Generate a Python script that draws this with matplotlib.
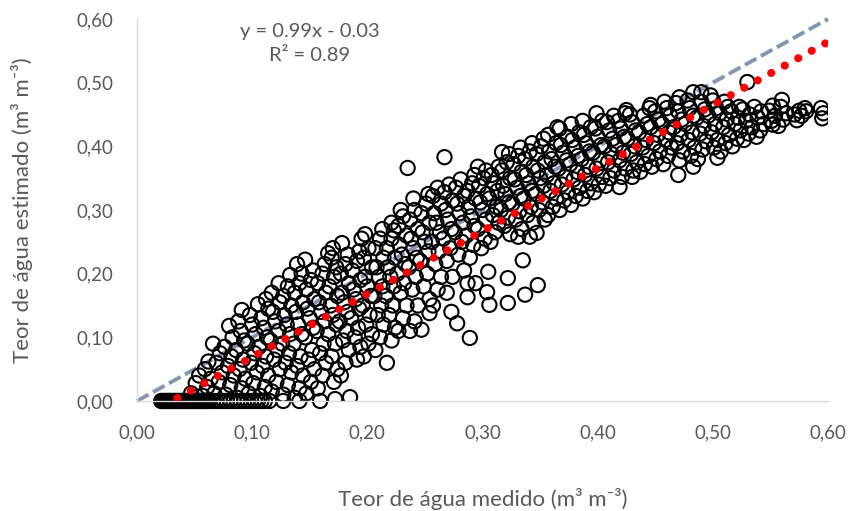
import matplotlib
matplotlib.use("Agg")
import matplotlib.pyplot as plt
import numpy as np

# pontos com estimado = 0 (valores medidos)
medido_zero = [0.021, 0.0225, 0.024, 0.0255, 0.027, 0.0285, 0.030, 0.0315, 0.033, 0.0345,
               0.036, 0.0375, 0.039, 0.0405, 0.042, 0.0435, 0.045, 0.0465, 0.048, 0.0495,
               0.051, 0.0525, 0.054, 0.0555, 0.057, 0.0585, 0.060, 0.0615, 0.063, 0.066,
               0.069, 0.072, 0.075, 0.078, 0.081, 0.084, 0.087, 0.090, 0.093, 0.096,
               0.099, 0.102, 0.105, 0.108, 0.111, 0.115, 0.127, 0.141, 0.159]

medido = [
    0.047, 0.051, 0.054,
    0.057, 0.061, 0.064, 0.059, 0.062,
    0.067, 0.071, 0.074, 0.069, 0.072, 0.066,
    0.077, 0.081, 0.084, 0.079, 0.082, 0.076, 0.083, 0.080,
    0.087, 0.091, 0.094, 0.089, 0.092, 0.086, 0.093, 0.090, 0.088, 0.091,
    0.097, 0.101, 0.104, 0.099, 0.102, 0.096, 0.103, 0.100, 0.098, 0.105,
    0.107, 0.111, 0.114, 0.109, 0.112, 0.106, 0.113, 0.110, 0.108, 0.114, 0.112,
    0.117, 0.121, 0.124, 0.119, 0.122, 0.116, 0.123, 0.120, 0.118, 0.124, 0.117, 0.123,
    0.127, 0.131, 0.134, 0.129, 0.132, 0.126, 0.133, 0.130, 0.128, 0.134, 0.127, 0.131, 0.133,
    0.137, 0.141, 0.144, 0.139, 0.142, 0.136, 0.143, 0.140, 0.138, 0.144, 0.137, 0.141, 0.143, 0.139,
    0.147, 0.151, 0.154, 0.149, 0.152, 0.146, 0.153, 0.150, 0.148, 0.154, 0.147, 0.151, 0.153, 0.146,
    0.157, 0.161, 0.164, 0.159, 0.162, 0.156, 0.163, 0.160, 0.158, 0.164, 0.157, 0.161, 0.163, 0.166,
    0.172, 0.171, 0.174, 0.169, 0.172, 0.166, 0.173, 0.170, 0.168, 0.174, 0.167, 0.171, 0.173, 0.169, 0.170,
    0.177, 0.181, 0.184, 0.179, 0.182, 0.176, 0.183, 0.180, 0.178, 0.184, 0.177, 0.181, 0.183, 0.178,
    0.185, 0.191, 0.194, 0.189, 0.192, 0.186, 0.193, 0.190, 0.188, 0.194, 0.187, 0.191, 0.193, 0.195,
    0.197, 0.201, 0.204, 0.199, 0.202, 0.196, 0.203, 0.200, 0.198, 0.204, 0.197, 0.201, 0.198,
    0.207, 0.211, 0.214, 0.209, 0.212, 0.206, 0.213, 0.210, 0.208, 0.214, 0.207, 0.211, 0.213,
    0.217, 0.221, 0.224, 0.219, 0.222, 0.216, 0.223, 0.220, 0.218, 0.224, 0.217, 0.221, 0.223, 0.221,
    0.227, 0.231, 0.234, 0.229, 0.232, 0.226, 0.233, 0.230, 0.228, 0.234, 0.227, 0.231, 0.229,
    0.237, 0.241, 0.244, 0.239, 0.242, 0.236, 0.243, 0.240, 0.238, 0.244, 0.237, 0.241, 0.240, 0.235,
    0.247, 0.254, 0.254, 0.249, 0.252, 0.246, 0.253, 0.250, 0.248, 0.254, 0.247, 0.251, 0.253,
    0.257, 0.261, 0.264, 0.259, 0.262, 0.256, 0.263, 0.260, 0.258, 0.264, 0.257, 0.261, 0.267,
    0.273, 0.269, 0.274, 0.269, 0.272, 0.266, 0.273, 0.270, 0.268, 0.274, 0.267, 0.271,
    0.278, 0.287, 0.284, 0.279, 0.282, 0.276, 0.283, 0.280, 0.278, 0.284, 0.277, 0.281,
    0.289, 0.287, 0.294, 0.289, 0.292, 0.286, 0.293, 0.290, 0.288, 0.294, 0.287, 0.291, 0.293, 0.296,
    0.306, 0.304, 0.305, 0.299, 0.302, 0.296, 0.303, 0.300, 0.298, 0.304, 0.297, 0.301, 0.303,
    0.307, 0.311, 0.314, 0.309, 0.312, 0.306, 0.313, 0.310, 0.308, 0.314, 0.317,
    0.322, 0.322, 0.324, 0.319, 0.322, 0.316, 0.323, 0.320, 0.318, 0.324, 0.317, 0.321, 0.323,
    0.335, 0.331, 0.334, 0.329, 0.332, 0.326, 0.333, 0.330, 0.328, 0.334, 0.327, 0.331, 0.333,
    0.337, 0.341, 0.344, 0.339, 0.342, 0.336, 0.343, 0.340, 0.338, 0.344, 0.337, 0.341, 0.343,
    0.348, 0.347, 0.354, 0.349, 0.352, 0.346, 0.353, 0.350, 0.348, 0.354, 0.347, 0.351, 0.353,
    0.357, 0.361, 0.364, 0.359, 0.362, 0.356, 0.363, 0.360, 0.358, 0.364, 0.357, 0.365,
    0.367, 0.371, 0.374, 0.369, 0.372, 0.366, 0.373, 0.370, 0.368, 0.374, 0.367,
    0.377, 0.381, 0.384, 0.379, 0.382, 0.376, 0.383, 0.380, 0.378, 0.384, 0.377,
    0.387, 0.391, 0.394, 0.389, 0.392, 0.386, 0.393, 0.390, 0.388, 0.394, 0.387,
    0.397, 0.401, 0.404, 0.399, 0.402, 0.396, 0.403, 0.400, 0.398, 0.404, 0.399,
    0.407, 0.411, 0.414, 0.409, 0.412, 0.406, 0.413, 0.410, 0.408, 0.414,
    0.419, 0.421, 0.424, 0.419, 0.422, 0.416, 0.423, 0.420, 0.418, 0.424,
    0.430, 0.431, 0.434, 0.429, 0.432, 0.426, 0.433, 0.430, 0.428, 0.425,
    0.437, 0.441, 0.444, 0.439, 0.442, 0.436, 0.443, 0.440, 0.445,
    0.447, 0.451, 0.454, 0.449, 0.452, 0.446, 0.453, 0.450, 0.446,
    0.457, 0.461, 0.464, 0.459, 0.462, 0.456, 0.463, 0.460, 0.458,
    0.470, 0.471, 0.474, 0.469, 0.472, 0.466, 0.473, 0.470, 0.468, 0.471,
    0.483, 0.481, 0.484, 0.479, 0.482, 0.476, 0.483, 0.480, 0.478, 0.483,
    0.487, 0.491, 0.494, 0.489, 0.492, 0.486, 0.493, 0.490, 0.490,
    0.504, 0.501, 0.504, 0.499, 0.502, 0.496, 0.503, 0.500, 0.498,
    0.507, 0.511, 0.514, 0.509, 0.512, 0.506, 0.513, 0.510,
    0.517, 0.521, 0.524, 0.519, 0.522, 0.516, 0.523,
    0.527, 0.531, 0.534, 0.529, 0.532, 0.526, 0.530,
    0.538, 0.541, 0.544, 0.539, 0.542, 0.536,
    0.552, 0.551, 0.554, 0.549, 0.552,
    0.557, 0.561, 0.564, 0.559, 0.560,
    0.573, 0.571, 0.575,
    0.577, 0.581, 0.580,
    0.595, 0.596, 0.594,
]

estimado = [
    0.012, 0.028, 0.040,
    0.008, 0.022, 0.035, 0.050, 0.062,
    0.012, 0.030, 0.045, 0.060, 0.075, 0.090,
    0.010, 0.025, 0.040, 0.055, 0.070, 0.085, 0.100, 0.118,
    0.005, 0.020, 0.035, 0.050, 0.065, 0.080, 0.095, 0.110, 0.125, 0.143,
    0.012, 0.028, 0.045, 0.060, 0.075, 0.090, 0.105, 0.120, 0.135, 0.152,
    0.008, 0.022, 0.040, 0.055, 0.070, 0.085, 0.100, 0.115, 0.130, 0.145, 0.160,
    0.015, 0.030, 0.050, 0.065, 0.080, 0.095, 0.110, 0.125, 0.140, 0.155, 0.170, 0.185,
    0.010, 0.025, 0.045, 0.060, 0.075, 0.090, 0.105, 0.120, 0.135, 0.150, 0.165, 0.180, 0.198,
    0.005, 0.020, 0.040, 0.055, 0.070, 0.090, 0.105, 0.120, 0.140, 0.155, 0.170, 0.185, 0.200, 0.215,
    0.012, 0.030, 0.050, 0.065, 0.080, 0.100, 0.115, 0.130, 0.145, 0.160, 0.175, 0.190, 0.205, 0.222,
    0.020, 0.040, 0.060, 0.075, 0.090, 0.110, 0.125, 0.140, 0.155, 0.170, 0.185, 0.200, 0.215, 0.232,
    0.003, 0.030, 0.050, 0.070, 0.090, 0.105, 0.120, 0.135, 0.150, 0.165, 0.180, 0.195, 0.210, 0.225, 0.240,
    0.040, 0.060, 0.080, 0.095, 0.110, 0.125, 0.140, 0.155, 0.170, 0.185, 0.200, 0.215, 0.230, 0.248,
    0.006, 0.065, 0.085, 0.100, 0.115, 0.130, 0.145, 0.160, 0.175, 0.190, 0.205, 0.220, 0.235, 0.255,
    0.070, 0.090, 0.105, 0.120, 0.135, 0.150, 0.165, 0.180, 0.195, 0.210, 0.225, 0.240, 0.262,
    0.080, 0.100, 0.120, 0.135, 0.150, 0.165, 0.180, 0.195, 0.210, 0.225, 0.240, 0.255, 0.270,
    0.060, 0.095, 0.115, 0.135, 0.150, 0.165, 0.180, 0.195, 0.210, 0.225, 0.240, 0.255, 0.268, 0.280,
    0.110, 0.130, 0.150, 0.170, 0.185, 0.200, 0.215, 0.230, 0.245, 0.260, 0.275, 0.290, 0.300,
    0.110, 0.125, 0.150, 0.175, 0.195, 0.210, 0.225, 0.240, 0.255, 0.270, 0.285, 0.300, 0.318, 0.366,
    0.112, 0.138, 0.160, 0.180, 0.200, 0.220, 0.235, 0.250, 0.265, 0.280, 0.295, 0.310, 0.325,
    0.150, 0.175, 0.195, 0.215, 0.235, 0.250, 0.265, 0.280, 0.295, 0.310, 0.322, 0.335, 0.383,
    0.140, 0.170, 0.195, 0.220, 0.240, 0.255, 0.270, 0.285, 0.300, 0.315, 0.328, 0.340,
    0.122, 0.185, 0.205, 0.230, 0.250, 0.265, 0.280, 0.295, 0.310, 0.322, 0.335, 0.348,
    0.099, 0.163, 0.185, 0.225, 0.245, 0.260, 0.275, 0.290, 0.305, 0.318, 0.330, 0.342, 0.355, 0.368,
    0.151, 0.171, 0.203, 0.240, 0.255, 0.270, 0.285, 0.300, 0.312, 0.325, 0.338, 0.350, 0.362,
    0.250, 0.265, 0.280, 0.292, 0.305, 0.318, 0.330, 0.342, 0.355, 0.368, 0.391,
    0.154, 0.193, 0.262, 0.275, 0.288, 0.300, 0.312, 0.325, 0.338, 0.350, 0.362, 0.375, 0.388,
    0.221, 0.258, 0.270, 0.285, 0.298, 0.310, 0.322, 0.335, 0.348, 0.360, 0.372, 0.385, 0.398,
    0.167, 0.258, 0.280, 0.292, 0.305, 0.318, 0.330, 0.342, 0.355, 0.368, 0.380, 0.392, 0.405,
    0.182, 0.264, 0.285, 0.300, 0.312, 0.325, 0.338, 0.350, 0.362, 0.375, 0.388, 0.400, 0.412,
    0.292, 0.305, 0.318, 0.330, 0.342, 0.355, 0.368, 0.380, 0.392, 0.405, 0.418, 0.430,
    0.300, 0.315, 0.328, 0.340, 0.352, 0.365, 0.378, 0.390, 0.402, 0.415, 0.428,
    0.308, 0.322, 0.335, 0.348, 0.360, 0.372, 0.385, 0.398, 0.410, 0.422, 0.435,
    0.318, 0.330, 0.342, 0.355, 0.368, 0.380, 0.392, 0.405, 0.418, 0.430, 0.440,
    0.328, 0.340, 0.352, 0.365, 0.378, 0.390, 0.402, 0.415, 0.428, 0.440, 0.452,
    0.338, 0.350, 0.362, 0.375, 0.388, 0.400, 0.412, 0.425, 0.438, 0.448,
    0.336, 0.352, 0.365, 0.378, 0.390, 0.402, 0.415, 0.428, 0.440, 0.452,
    0.352, 0.362, 0.375, 0.388, 0.400, 0.412, 0.425, 0.438, 0.450, 0.457,
    0.360, 0.372, 0.385, 0.398, 0.410, 0.422, 0.435, 0.448, 0.460,
    0.368, 0.380, 0.392, 0.405, 0.418, 0.430, 0.442, 0.455, 0.465,
    0.372, 0.385, 0.398, 0.410, 0.422, 0.435, 0.448, 0.460, 0.470,
    0.355, 0.378, 0.392, 0.405, 0.418, 0.430, 0.442, 0.455, 0.468, 0.477,
    0.368, 0.385, 0.398, 0.410, 0.422, 0.435, 0.448, 0.460, 0.472, 0.485,
    0.380, 0.395, 0.408, 0.420, 0.432, 0.445, 0.458, 0.470, 0.485,
    0.382, 0.398, 0.410, 0.422, 0.435, 0.448, 0.460, 0.472, 0.480,
    0.392, 0.405, 0.418, 0.430, 0.442, 0.452, 0.462, 0.470,
    0.400, 0.412, 0.425, 0.435, 0.445, 0.455, 0.462,
    0.410, 0.420, 0.430, 0.440, 0.450, 0.458, 0.501,
    0.415, 0.425, 0.435, 0.445, 0.455, 0.462,
    0.434, 0.440, 0.448, 0.456, 0.464,
    0.432, 0.442, 0.452, 0.462, 0.473,
    0.441, 0.450, 0.456,
    0.448, 0.455, 0.460,
    0.444, 0.452, 0.460,
]

# linha de tendencia (equacao do grafico) e linha 1:1
inclinacao = 0.99
intercepto = -0.03
r2 = 0.89
tendencia_x = [0.035, 0.600]
linha_11 = [0.0, 0.60]

ticks = [0.0, 0.1, 0.2, 0.3, 0.4, 0.5, 0.6]
tick_labels = ["0,00", "0,10", "0,20", "0,30", "0,40", "0,50", "0,60"]

assert len(medido) == len(estimado)

plt.rcParams['font.family'] = ['Lato', 'DejaVu Sans']
cinza = '#595959'

fig = plt.figure(figsize=(8.52, 5.11), dpi=100)
ax = fig.add_axes([0.1608, 0.2153, 0.8110, 0.7475])

# linha 1:1
ax.plot(linha_11, linha_11, color='#8497B0', linewidth=2.8,
        linestyle=(0, (3.4, 1.3)), zorder=1, clip_on=False)

ax.scatter(medido, estimado, s=105, facecolors='none', edgecolors='black',
           linewidths=1.5, zorder=2)
ax.scatter(medido_zero, np.zeros(len(medido_zero)), s=105, facecolors='none',
           edgecolors='black', linewidths=1.5, zorder=2, clip_on=False)

# tendencia pontilhada vermelha
tx = np.array(tendencia_x)
linha_tend, = ax.plot(tx, inclinacao * tx + intercepto, color='#FF0000',
                      linewidth=5.8, zorder=3)
linha_tend.set_dashes([0.02, 1.89])
linha_tend.set_dash_capstyle('round')

ax.set_xlim(0, 0.6)
ax.set_ylim(0, 0.6)
ax.set_xticks(ticks)
ax.set_xticklabels(tick_labels)
ax.set_yticks(ticks)
ax.set_yticklabels(tick_labels)
ax.tick_params(length=0, labelsize=13.5, labelcolor=cinza)
ax.tick_params(axis='x', pad=17)
ax.tick_params(axis='y', pad=17)

for lado in ['top', 'right']:
    ax.spines[lado].set_visible(False)
ax.spines['left'].set_color('#D9D9D9')
ax.spines['bottom'].set_color('#D9D9D9')
ax.spines['left'].set_linewidth(1.0)
ax.spines['bottom'].set_linewidth(1.0)

ax.set_xlabel("Teor de água medido (m³ m⁻³)", fontsize=16, color=cinza)
ax.xaxis.set_label_coords(0.5, -0.228)
ax.set_ylabel("Teor de água estimado (m³ m⁻³)", fontsize=16, color=cinza)
ax.yaxis.set_label_coords(-0.15, 0.5)

ax.text(0.150, 0.581, f"y = {inclinacao}x - {abs(intercepto)}", ha='center',
        va='center', fontsize=14.5, color=cinza)
ax.text(0.150, 0.542, f"R² = {r2}", ha='center', va='center',
        fontsize=14.5, color=cinza)

fig.savefig('out.png', dpi=100)
